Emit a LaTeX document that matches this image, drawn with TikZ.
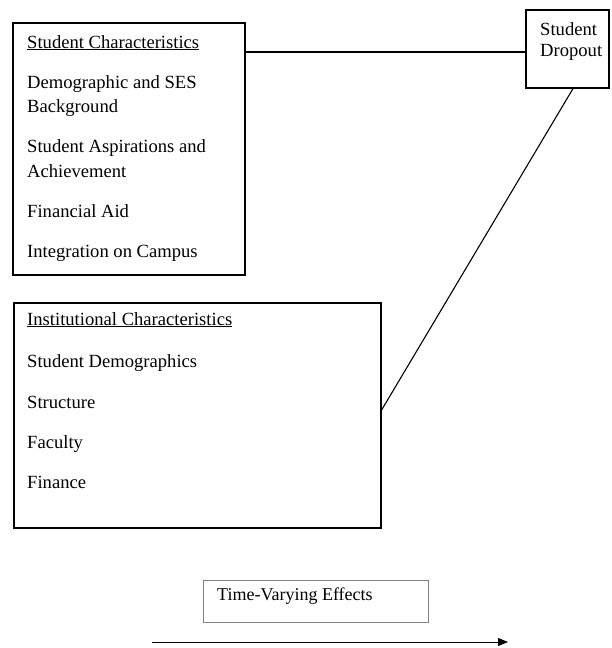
\documentclass[tikz,border=0pt]{standalone}
\usepackage{fontspec}
\setmainfont{Liberation Serif}
\usetikzlibrary{arrows.meta}
\begin{document}
\begin{tikzpicture}[x=1pt,y=-1pt,
  box/.style={draw=black,line width=1.2pt,rectangle,inner sep=0pt},
  lbl/.style={anchor=base west,inner sep=0pt,font=\fontsize{18.6}{24}\selectfont},
  conn/.style={draw=black,line width=1.1pt}]
\useasboundingbox (0,0) rectangle (611,648);
% boxes
\node[box,minimum width=232pt,minimum height=252pt] (stu) at (129,149) {};
\node[box,minimum width=367pt,minimum height=225pt] (inst) at (197.5,415.5) {};
\node[box,minimum width=83pt,minimum height=78pt] (drop) at (567.5,49) {};
\node[draw=gray,line width=0.6pt,rectangle,inner sep=0pt,minimum width=225pt,minimum height=42pt] (tv) at (315.5,601) {};
% texts
\node[lbl] (s0) at (27,48) {\underline{Student Characteristics}};
\node[lbl] (s1) at (27,88) {Demographic and SES};
\node[lbl] (s2) at (27,112) {Background};
\node[lbl] (s3) at (27,152) {Student Aspirations and};
\node[lbl] (s4) at (27,177) {Achievement};
\node[lbl] (s5) at (27,217) {Financial Aid};
\node[lbl] (s6) at (27,257) {Integration on Campus};
\node[lbl] (i0) at (27,325) {\underline{Institutional Characteristics}};
\node[lbl] (i1) at (27,367) {Student Demographics};
\node[lbl] (i2) at (27,408) {Structure};
\node[lbl] (i3) at (27,448) {Faculty};
\node[lbl] (i4) at (27,488) {Finance};
\node[lbl] (d0) at (540,35) {Student};
\node[lbl] (d1) at (540,56) {Dropout};
\node[lbl,font=\fontsize{18}{24}\selectfont] (t0) at (217,600) {Time-Varying Effects};
% connectors
\draw[conn] (stu.east |- 0,52) -- (drop.west |- 0,52);
\draw[conn] ([xshift=5.5pt]drop.south) -- ([yshift=5.5pt]inst.east);
\coordinate (a0) at (152,642);
\coordinate (a1) at (508,642);
\draw[line width=0.8pt,-{Triangle[length=10pt,width=8pt]}] (a0) -- (a1);
\end{tikzpicture}
\end{document}
